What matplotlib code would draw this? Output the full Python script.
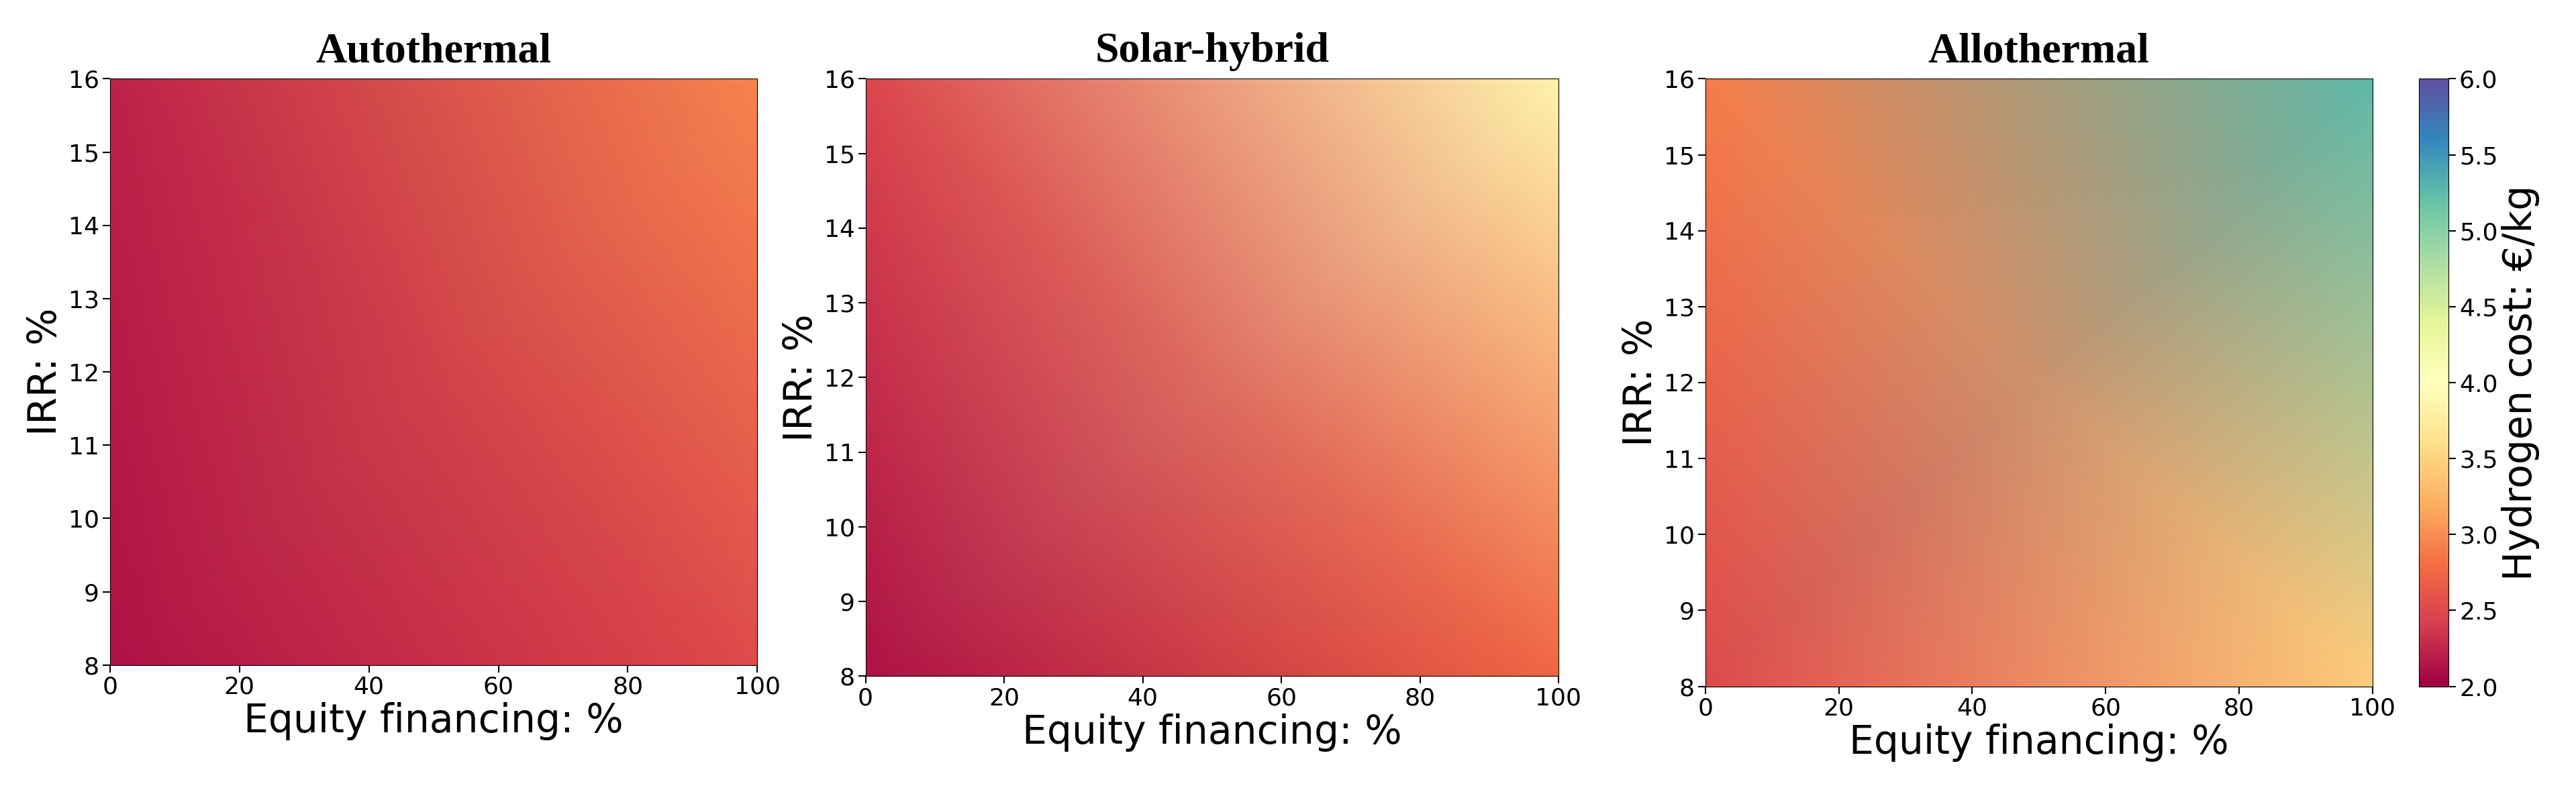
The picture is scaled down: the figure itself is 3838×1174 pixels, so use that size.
import numpy as np
import matplotlib
matplotlib.use('Agg')
import matplotlib.pyplot as plt

# corner nodes: equity financing (%) x IRR (%)
equity = [0, 100]
irr = [8, 16]

# hydrogen cost (EUR/kg), rows = irr (bottom, top), cols = equity (0, 100)
auto_cost = [[2.12, 2.52],
             [2.22, 2.95]]
solar_cost = [[2.12, 2.75],
              [2.48, 3.85]]
allo_cost = [[2.50, 3.45],
             [2.90, 5.25]]

titles = ['Autothermal', 'Solar-hybrid', 'Allothermal']
data = [auto_cost, solar_cost, allo_cost]
boxes = [[0.0427, 0.156, 0.2513, 0.744],
         [0.336, 0.142, 0.269, 0.758],
         [0.662, 0.129, 0.259, 0.771]]

fig = plt.figure(figsize=(38.38, 11.74), dpi=100)
for t, d, b in zip(titles, data, boxes):
    ax = fig.add_axes(b)
    im = ax.pcolormesh(equity, irr, np.array(d), cmap='Spectral', vmin=2, vmax=6,
                       shading='gouraud')
    ax.set_xlim(0, 100)
    ax.set_ylim(8, 16)
    ax.set_xticks([0, 20, 40, 60, 80, 100])
    ax.set_yticks(range(8, 17))
    ax.tick_params(labelsize=26, length=8, width=1.5)
    ax.set_xlabel('Equity financing: %', fontsize=42)
    ax.set_ylabel('IRR: %', fontsize=42)
    ax.set_title(t, fontsize=46, fontweight='bold', family='Liberation Serif', pad=18)

cax = fig.add_axes([0.939, 0.129, 0.0115, 0.771])
cb = fig.colorbar(im, cax=cax)
cb.set_ticks(np.arange(2, 6.01, 0.5))
cb.ax.tick_params(labelsize=26, length=8, width=1.5)
cb.set_label('Hydrogen cost: €/kg', fontsize=42)

fig.savefig('out.png', dpi=100)
